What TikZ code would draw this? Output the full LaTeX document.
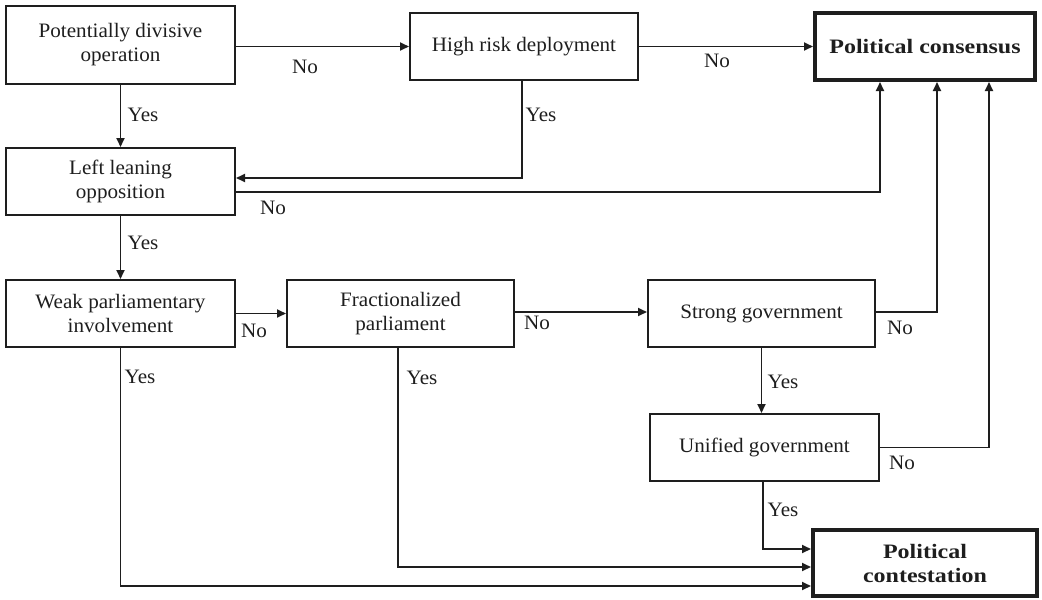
\documentclass[tikz,border=0pt]{standalone}
\usepackage{fontspec}
\setmainfont{Liberation Serif}[FakeStretch=1.03]
\newfontfamily\wideboldfam{Liberation Serif}[FakeStretch=1.17]
\usetikzlibrary{arrows.meta}
\definecolor{ink}{HTML}{1E1E1E}
\begin{document}
\begin{tikzpicture}[x=1pt,y=-1pt,
  txt/.style={font=\fontsize{20.5}{24}\selectfont, text=ink},
  box/.style={txt, draw=ink, line width=2pt, rectangle, inner sep=0pt, align=center},
  endbox/.style={draw=ink, line width=4pt, rectangle, inner sep=0pt, align=center, text=ink,
     font=\wideboldfam\bfseries\fontsize{20.5}{24}\selectfont},
  conn/.style={draw=ink, line width=1.8pt},
  arr/.style={conn, -{Triangle[length=9pt,width=8pt]}},
  lbl/.style={txt, inner sep=0pt}]
\useasboundingbox (0,0) rectangle (1042,600);
% boxes
\node[box, minimum width=229pt, minimum height=78pt] (b1) at (120.5,45) {Potentially divisive\\operation};
\node[box, minimum width=228pt, minimum height=67pt] (b2) at (524,46.5) {High risk deployment};
\node[endbox, minimum width=220pt, minimum height=67pt] (b3) at (925,46.5) {Political consensus};
\node[box, minimum width=229pt, minimum height=67pt] (b4) at (120.5,181.5) {Left leaning\\opposition};
\node[box, minimum width=229pt, minimum height=67pt] (b5) at (120.5,313.5) {Weak parliamentary\\involvement};
\node[box, minimum width=227pt, minimum height=67pt] (b6) at (400.5,313.5) {Fractionalized\\parliament};
\node[box, minimum width=227pt, minimum height=67pt] (b7) at (761.5,313.5) {Strong government};
\node[box, minimum width=229pt, minimum height=67pt] (b8) at (764.5,447.5) {Unified government};
\node[endbox, minimum width=224pt, minimum height=66pt] (b9) at (925,563) {Political\\contestation};
% connectors
\draw[arr] (b1.east |- b2.west) -- (b2.west);
\draw[arr] (b2.east) -- (b3.west);
\draw[arr] (b1.south) -- (b4.north);
\draw[arr] ([xshift=-2pt]b2.south) |- ([yshift=3.5pt]b4.east);
\draw[arr] ([yshift=-10.5pt]b4.east) -| ([xshift=67pt]b3.south west);
\draw[arr] (b4.south) -- (b5.north);
\draw[arr] (b5.east) -- (b6.west);
\draw[arr] ([yshift=1.5pt]b6.east) -- ([yshift=1.5pt]b7.west);
\draw[arr] ([yshift=1.5pt]b7.east) -| ([xshift=124pt]b3.south west);
\draw[arr] (b7.south) -- (b7.south |- b8.north);
\draw[arr] (b8.east) -| ([xshift=176pt]b3.south west);
\draw[arr] ([xshift=-1.5pt]b8.south) |- ([yshift=14pt]b9.west);
\draw[arr] ([xshift=-2.5pt]b6.south) |- ([yshift=-4pt]b9.west);
\draw[arr] (b5.south) |- ([yshift=-23pt]b9.west);
% labels
\node[lbl] (l1) at (305,67) {No};
\node[lbl] (l2) at (717,61) {No};
\node[lbl] (l3) at (143,115) {Yes};
\node[lbl] (l4) at (541,115) {Yes};
\node[lbl] (l5) at (273,208) {No};
\node[lbl] (l6) at (143,243) {Yes};
\node[lbl] (l7) at (254,331) {No};
\node[lbl] (l8) at (537,323) {No};
\node[lbl] (l9) at (140,377) {Yes};
\node[lbl] (l10) at (422,378) {Yes};
\node[lbl] (l11) at (900,328) {No};
\node[lbl] (l12) at (783,382) {Yes};
\node[lbl] (l13) at (902,463) {No};
\node[lbl] (l14) at (783,510) {Yes};
\end{tikzpicture}
\end{document}
